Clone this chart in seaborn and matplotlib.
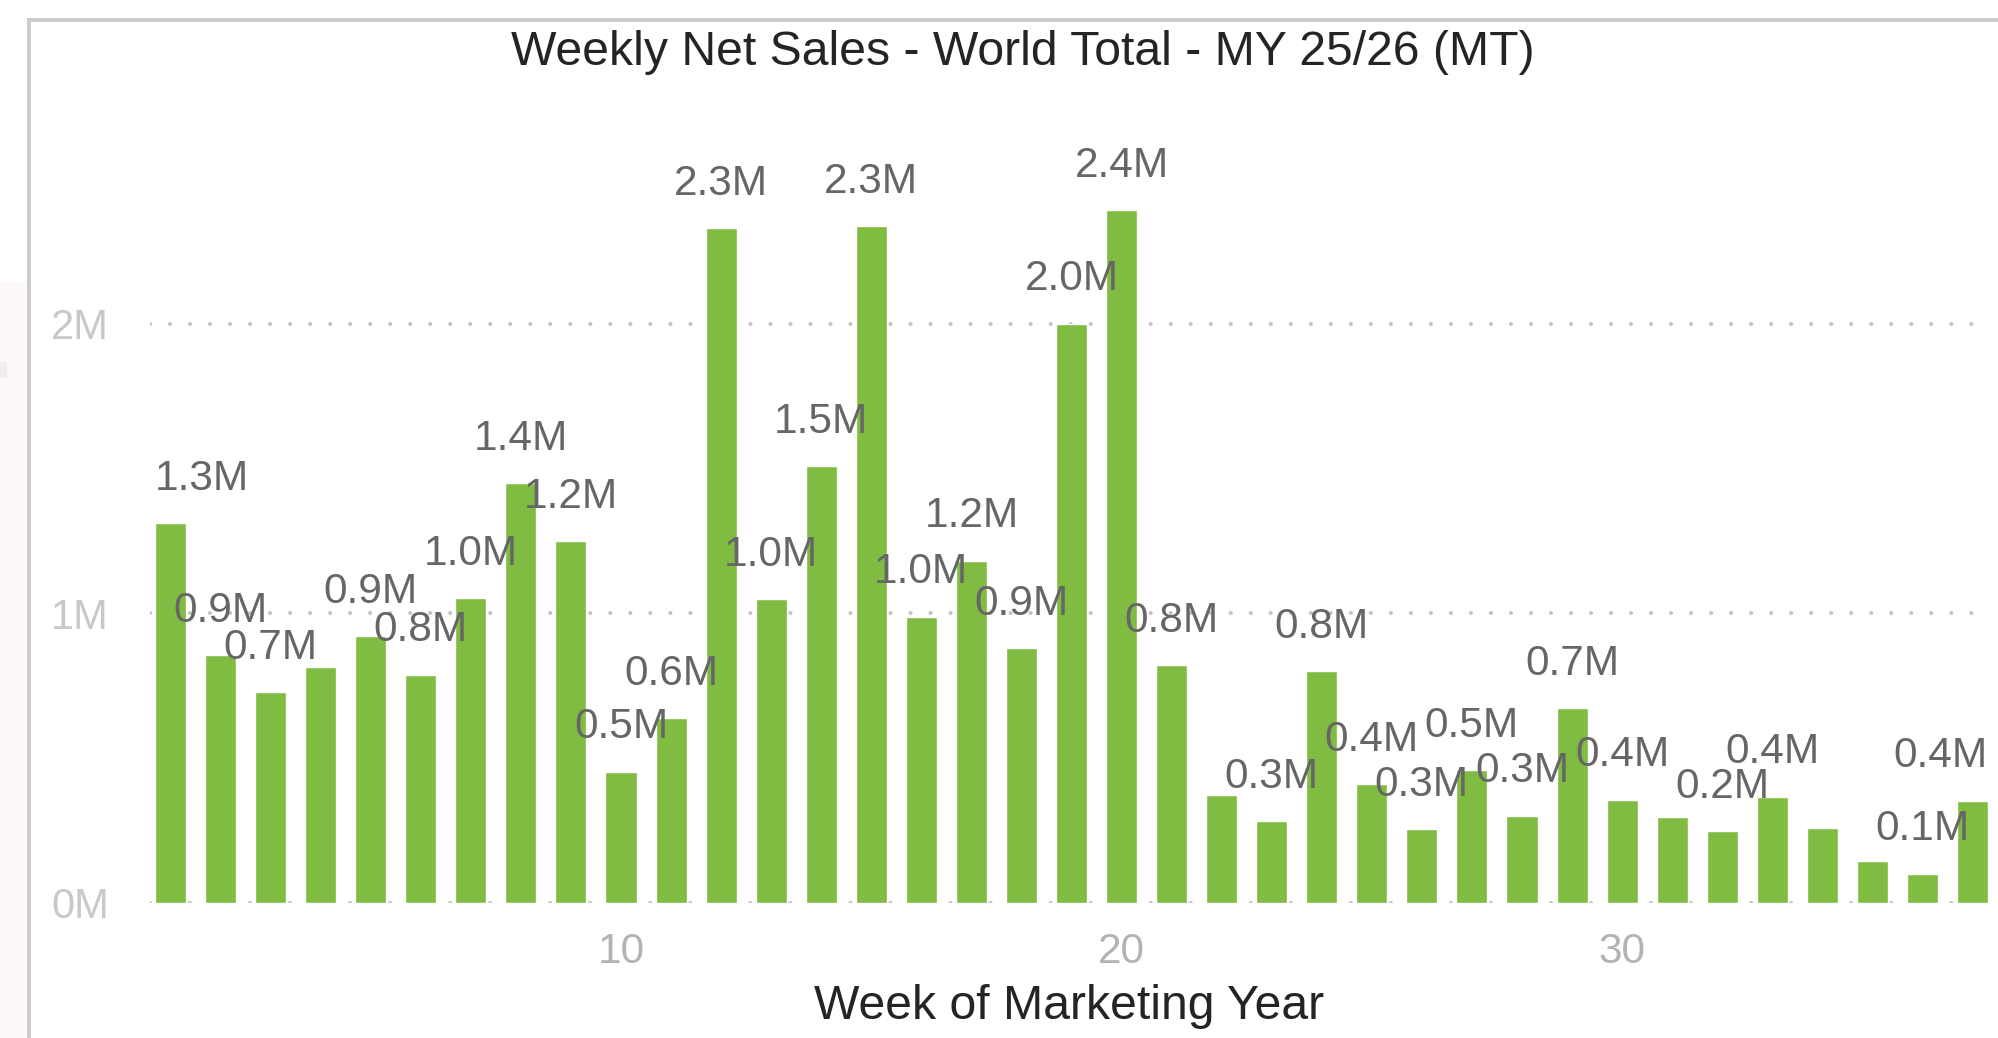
import matplotlib
matplotlib.use("Agg")
import matplotlib.pyplot as plt
import seaborn as sns
import pandas as pd
from matplotlib.patches import Rectangle

# ---------------- data ----------------
weeks = list(range(1, 38))
net_sales = [
    1.310e6, 0.855e6, 0.727e6, 0.814e6, 0.920e6, 0.787e6, 1.052e6, 1.448e6,
    1.248e6, 0.452e6, 0.636e6, 2.330e6, 1.048e6, 1.508e6, 2.337e6, 0.988e6,
    1.181e6, 0.879e6, 2.000e6, 2.392e6, 0.821e6, 0.370e6, 0.282e6, 0.800e6,
    0.409e6, 0.253e6, 0.458e6, 0.300e6, 0.672e6, 0.355e6, 0.295e6, 0.247e6,
    0.366e6, 0.257e6, 0.142e6, 0.100e6, 0.352e6,
]
data_labels = [
    "1.3M", "0.9M", "0.7M", "", "0.9M", "0.8M", "1.0M", "1.4M",
    "1.2M", "0.5M", "0.6M", "2.3M", "1.0M", "1.5M", "2.3M", "1.0M",
    "1.2M", "0.9M", "2.0M", "2.4M", "0.8M", "", "0.3M", "0.8M",
    "0.4M", "0.3M", "0.5M", "0.3M", "0.7M", "0.4M", "", "0.2M",
    "0.4M", "", "", "0.1M", "0.4M",
]
x_ticks = [10, 20, 30]
y_ticks = [0, 1_000_000, 2_000_000]
y_tick_labels = ["0M", "1M", "2M"]
title = "Weekly Net Sales - World Total - MY 25/26 (MT)"
x_label = "Week of Marketing Year"

# ---------------- style ----------------
sns.set_style("white")
plt.rcParams["font.family"] = ["Liberation Sans", "DejaVu Sans"]
plt.rcParams["lines.scale_dashes"] = False

W, H = 1998, 1038
fig = plt.figure(figsize=(W / 100, H / 100), dpi=100)
fig.patch.set_facecolor("white")

# frame decorations of the report canvas
fig.add_artist(Rectangle((0, 0), 27 / W, (H - 282) / H, transform=fig.transFigure,
                         facecolor="#FCF8F7", edgecolor="none", zorder=0))
fig.add_artist(Rectangle((0, (H - 378) / H), 7 / W, 16 / H, transform=fig.transFigure,
                         facecolor="#EFEDED", edgecolor="none", zorder=0))
fig.add_artist(Rectangle((27 / W, (H - 22) / H), (W - 27) / W, 4 / H, transform=fig.transFigure,
                         facecolor="#CCCCCC", edgecolor="none", zorder=0))
fig.add_artist(Rectangle((27 / W, 0), 4 / W, (H - 18) / H, transform=fig.transFigure,
                         facecolor="#CCCCCC", edgecolor="none", zorder=0))

ax_left, ax_right, ax_bottom, ax_top = 150, 1988, 902.5, 106.6
ax = fig.add_axes([ax_left / W, (H - ax_bottom) / H,
                   (ax_right - ax_left) / W, (ax_bottom - ax_top) / H])
ax.set_facecolor("none")

df = pd.DataFrame({"week": weeks, "sales": net_sales})
bar_width = 0.62
sns.barplot(data=df, x="week", y="sales", native_scale=True, width=bar_width,
            color="#80BC41", saturation=1, errorbar=None, ax=ax, zorder=2)

for yv in y_ticks:
    ax.axhline(yv, color="#C4C4C4", lw=3.0, ls=(0, (0.01, 14.4)),
               dash_capstyle="round", zorder=1)

ax.set_xlim(0.59, 37.31)
ax.set_ylim(0, 2.75e6)
ax.set_xticks(x_ticks)
ax.set_xticklabels([str(t) for t in x_ticks])
ax.set_yticks(y_ticks)
ax.set_yticklabels(y_tick_labels)
ax.tick_params(axis="x", length=0, pad=21.5, labelsize=30.5, labelcolor="#B3B3B3")
ax.tick_params(axis="y", length=0, pad=29.5, labelsize=30, labelcolor="#C8C8C8")
for s in ax.spines.values():
    s.set_visible(False)
ax.grid(False)

half = bar_width / 2
n = len(weeks)
for i, (w, v, lab) in enumerate(zip(weeks, net_sales, data_labels)):
    if not lab:
        continue
    if i == 0:
        xpos, ha = w - half, "left"
    elif i == n - 1:
        xpos, ha = w + half, "right"
    else:
        xpos, ha = w, "center"
    ax.annotate(lab, (xpos, v), xytext=(0, 24), textcoords="offset points",
                ha=ha, va="baseline", fontsize=30.5, color="#666666", zorder=3,
                annotation_clip=False)

fig.text(1023 / W, 1 - 65 / H, title, fontsize=34.7, color="#252423",
         ha="center", va="baseline")

ax_h = ax_bottom - ax_top
ax.set_xlabel(x_label, fontsize=34.7, color="#252423")
ax.xaxis.label.set_va("baseline")
ax.xaxis.set_label_coords(0.5, -(1019 - ax_bottom) / ax_h)
ax.set_ylabel("")

fig.savefig("out.png", dpi=100)
